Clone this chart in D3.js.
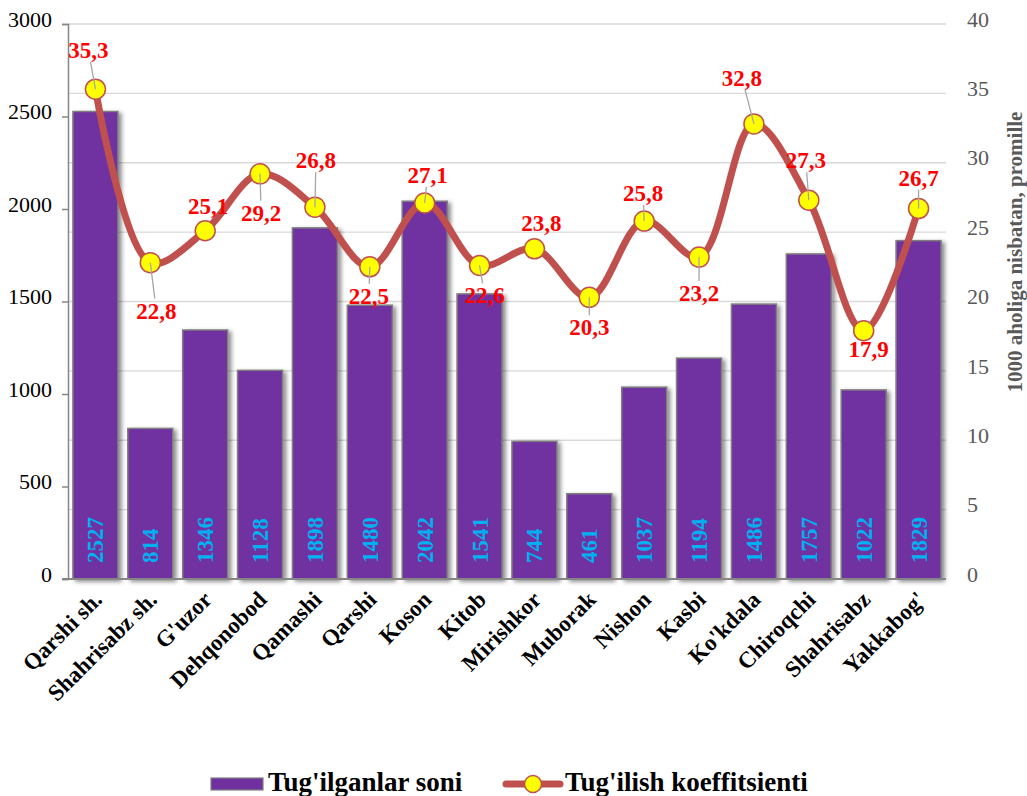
<!DOCTYPE html>
<html>
<head>
<meta charset="utf-8">
<script src="https://cdn.jsdelivr.net/npm/d3@7"></script>
<style>
  body { margin: 0; background: #fff; }
  svg { display: block; font-family: "Liberation Serif", "DejaVu Serif", serif; }
</style>
</head>
<body>
<div id="chart"></div>
<script>
// data
const districts = ["Qarshi sh.", "Shahrisabz sh.", "G'uzor", "Dehqonobod", "Qamashi", "Qarshi", "Koson", "Kitob",
  "Mirishkor", "Muborak", "Nishon", "Kasbi", "Ko'kdala", "Chiroqchi", "Shahrisabz", "Yakkabog'"];
const births = [2527, 814, 1346, 1128, 1898, 1480, 2042, 1541, 744, 461, 1037, 1194, 1486, 1757, 1022, 1829];
const birthRate = [35.3, 22.8, 25.1, 29.2, 26.8, 22.5, 27.1, 22.6, 23.8, 20.3, 25.8, 23.2, 32.8, 27.3, 17.9, 26.7];
const leftTicks = [0, 500, 1000, 1500, 2000, 2500, 3000];
const rightTicks = [0, 5, 10, 15, 20, 25, 30, 35, 40];
const seriesNames = ["Tug'ilganlar soni", "Tug'ilish koeffitsienti"];
const rightTitle = "1000 aholiga nisbatan, promille";

// label offsets from each marker (placement only)
const labelOffsets = [[-7, -39], [6, 48], [3, -25], [1, 39], [1, -47], [-1, 29], [3, -28], [5, 30],
  [7, -26], [0, 30], [-1, -28], [0, 36], [-12, -46], [-3, -40], [5, 18], [0, -31]];

const W = 1027, H = 796;
const plotL = 68, plotR = 946, plotT = 24, plotB = 579;

const svg = d3.select('#chart').append('svg').attr('width', W).attr('height', H);

const defs = svg.append('defs');
const f = defs.append('filter').attr('id', 'shadow').attr('x', '-20%').attr('y', '-5%').attr('width', '150%').attr('height', '115%');
f.append('feDropShadow').attr('dx', 3).attr('dy', 2).attr('stdDeviation', 2).attr('flood-color', '#000').attr('flood-opacity', 0.45);

const x = d3.scaleBand().domain(districts).range([plotL, plotR]).paddingInner(0.18).paddingOuter(0.09);
const yL = d3.scaleLinear().domain([0, 3000]).range([plotB, plotT]);
const yR = d3.scaleLinear().domain([0, 40]).range([plotB, plotT]);

// gridlines (from secondary axis)
svg.append('g').selectAll('line').data(rightTicks.filter(d => d > 0)).join('line')
  .attr('x1', plotL).attr('x2', plotR)
  .attr('y1', d => yR(d)).attr('y2', d => yR(d))
  .attr('stroke', '#D9D9D9').attr('stroke-width', 1.3);

// left axis
const gL = svg.append('g').attr('transform', `translate(${plotL},0)`)
  .call(d3.axisLeft(yL).tickValues(leftTicks).tickFormat(d3.format('d')).tickSize(6).tickPadding(10));
gL.select('.domain').attr('stroke', '#868686').attr('stroke-width', 1.5);
gL.selectAll('.tick line').attr('stroke', '#868686').attr('stroke-width', 1.5);
gL.selectAll('.tick text').attr('font-size', 22).attr('fill', '#000')
  .attr('font-family', '"Liberation Serif", serif').attr('dy', '0.1em');

// right axis labels
const gR = svg.append('g').attr('transform', `translate(${plotR},0)`)
  .call(d3.axisRight(yR).tickValues(rightTicks).tickSize(0).tickPadding(21));
gR.select('.domain').remove();
gR.selectAll('.tick text').attr('font-size', 22).attr('fill', '#595959')
  .attr('font-family', '"Liberation Serif", serif').attr('dy', '0.1em');

// bars
svg.append('g').selectAll('rect').data(births).join('rect')
  .attr('x', (d, i) => x(districts[i]))
  .attr('y', d => yL(d))
  .attr('width', x.bandwidth())
  .attr('height', d => yL(0) - yL(d))
  .attr('fill', '#7030A0')
  .attr('stroke', '#7F7F7F').attr('stroke-width', 1.5)
  .attr('filter', 'url(#shadow)');

// bottom axis line
svg.append('line').attr('x1', plotL - 6).attr('x2', plotR).attr('y1', plotB).attr('y2', plotB)
  .attr('stroke', '#868686').attr('stroke-width', 1.8);

// bar value labels
svg.append('g').selectAll('text').data(births).join('text')
  .attr('transform', (d, i) => `translate(${x(districts[i]) + x.bandwidth() / 2 + 8},${plotB - 16}) rotate(-90)`)
  .attr('font-size', 23).attr('font-weight', 'bold').attr('fill', '#00B0F0')
  .attr('text-anchor', 'start')
  .text(d => d);

// category labels
svg.append('g').selectAll('text').data(districts).join('text')
  .attr('transform', d => `translate(${x(d) + x.bandwidth() / 2 + 8},${plotB + 22}) rotate(-45)`)
  .attr('font-size', 23).attr('font-weight', 'bold').attr('fill', '#000')
  .attr('text-anchor', 'end')
  .text(d => d);

// line series
const cx = i => x(districts[i]) + x.bandwidth() / 2;
const line = d3.line().x((d, i) => cx(i)).y(d => yR(d)).curve(d3.curveCatmullRom.alpha(0.5));
svg.append('path').datum(birthRate).attr('d', line)
  .attr('fill', 'none').attr('stroke', '#C0504D').attr('stroke-width', 7).attr('stroke-linecap', 'round');

svg.append('g').selectAll('circle').data(birthRate).join('circle')
  .attr('cx', (d, i) => cx(i)).attr('cy', d => yR(d)).attr('r', 10)
  .attr('fill', '#FFFF00').attr('stroke', '#C0504D').attr('stroke-width', 1.5);

// leader lines, only where the label sits away from its marker
const leaderIdx = d3.range(birthRate.length).filter(i => Math.abs(labelOffsets[i][1]) > 27);
svg.append('g').selectAll('line').data(leaderIdx).join('line')
  .attr('x1', i => cx(i)).attr('y1', i => yR(birthRate[i]))
  .attr('x2', i => {
    const [dx, dy] = labelOffsets[i];
    return cx(i) + dx * (Math.abs(dy) - 12) / Math.abs(dy);
  })
  .attr('y2', i => {
    const [dx, dy] = labelOffsets[i];
    return yR(birthRate[i]) + dy * (Math.abs(dy) - 12) / Math.abs(dy);
  })
  .attr('stroke', '#A6A6A6').attr('stroke-width', 1.3);

// rate labels
svg.append('g').selectAll('text').data(birthRate).join('text')
  .attr('x', (d, i) => cx(i) + labelOffsets[i][0])
  .attr('y', (d, i) => yR(d) + labelOffsets[i][1] + 8)
  .attr('text-anchor', 'middle')
  .attr('font-size', 23).attr('font-weight', 'bold').attr('fill', '#FF0000')
  .text(d => d.toFixed(1).replace('.', ','));

// right axis title
svg.append('text')
  .attr('transform', `translate(1022,252) rotate(-90)`)
  .attr('text-anchor', 'middle')
  .attr('font-size', 21).attr('font-weight', 'bold').attr('fill', '#595959')
  .text(rightTitle);

// legend
const lg = svg.append('g');
lg.append('rect').attr('x', 211).attr('y', 778).attr('width', 52).attr('height', 12)
  .attr('fill', '#7030A0').attr('stroke', '#7F7F7F').attr('stroke-width', 1.2);
lg.append('text').attr('x', 268).attr('y', 791).attr('font-size', 27).attr('font-weight', 'bold').text(seriesNames[0]);
lg.append('line').attr('x1', 506).attr('x2', 560).attr('y1', 784).attr('y2', 784)
  .attr('stroke', '#C0504D').attr('stroke-width', 7).attr('stroke-linecap', 'round');
lg.append('circle').attr('cx', 533).attr('cy', 784).attr('r', 8.5)
  .attr('fill', '#FFFF00').attr('stroke', '#C0504D').attr('stroke-width', 1.5);
lg.append('text').attr('x', 565).attr('y', 791).attr('font-size', 27).attr('font-weight', 'bold').text(seriesNames[1]);
</script>
</body>
</html>
